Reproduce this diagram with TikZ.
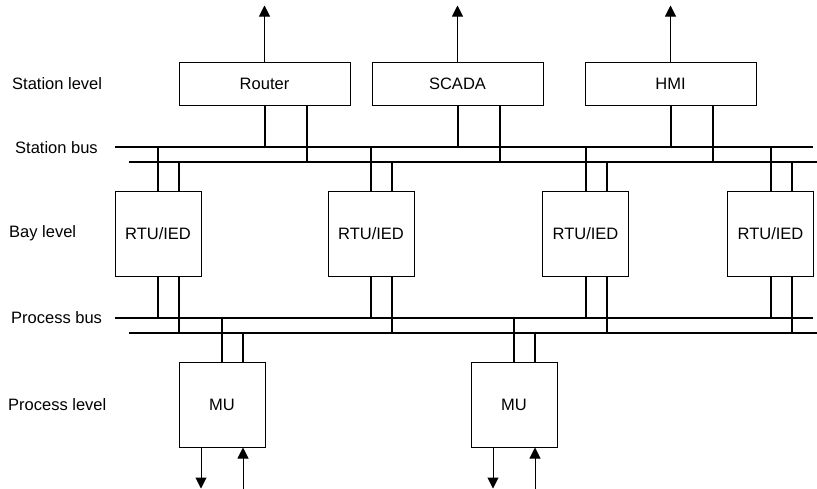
\documentclass[tikz,border=0pt]{standalone}
\usepackage{fontspec}
\setmainfont{Liberation Sans}
\usetikzlibrary{arrows.meta,calc,positioning}

\begin{document}
\begin{tikzpicture}[
  x=1pt,y=-1pt,
  every node/.style={font=\fontsize{16.5}{19}\selectfont},
  levelnode/.style={anchor=west,inner sep=0pt},
  topnode/.style={draw,line width=1pt,minimum width=171pt,minimum height=43pt,inner sep=0pt},
  devnode/.style={draw,line width=1pt,minimum width=86pt,minimum height=85pt,inner sep=0pt},
  bus/.style={line width=2pt},
  io/.style={-{Triangle[length=11pt,width=11pt]},line width=1pt},
  oi/.style={{Triangle[length=11pt,width=11pt]}-,line width=1pt}
]
  \useasboundingbox (0,0) rectangle (817,488);

  \node[levelnode] (stationlvl) at (12,84) {Station level};
  \node[levelnode] (stationbus) at (15,148) {Station bus};
  \node[levelnode] (baylvl) at (9,233) {Bay level};
  \node[levelnode] (processbus) at (11,318) {Process bus};
  \node[levelnode] (processlvl) at (8,405) {Process level};

  \node[topnode] (router) at (264.5,83.5) {Router};
  \node[topnode] (scada) at (457.5,83.5) {SCADA};
  \node[topnode] (hmi) at (670.5,83.5) {HMI};

  \node[devnode] (rtua) at (158,233.5) {RTU/IED};
  \node[devnode] (rtub) at (371,233.5) {RTU/IED};
  \node[devnode] (rtuc) at (585.5,233.5) {RTU/IED};
  \node[devnode] (rtud) at (770.5,233.5) {RTU/IED};

  \node[devnode] (mua) at (222,404.5) {MU};
  \node[devnode] (mub) at (514,404.5) {MU};

  \coordinate (sbaw) at (115,147); \coordinate (sbae) at (813,147);
  \coordinate (sbbw) at (129,162); \coordinate (sbbe) at (817,162);
  \coordinate (pbaw) at (115,318); \coordinate (pbae) at (813,318);
  \coordinate (pbbw) at (129,333); \coordinate (pbbe) at (817,333);

  \draw[bus] (sbaw) -- (sbae);
  \draw[bus] (sbbw) -- (sbbe);
  \draw[bus] (pbaw) -- (pbae);
  \draw[bus] (pbbw) -- (pbbe);

  \foreach \n in {router,scada,hmi}{
    \draw[bus] (\n.south) -- (\n.south |- sbaw);
    \draw[bus] ([xshift=42pt]\n.south) -- ([xshift=42pt]\n.south |- sbbw);
    \draw[io] (\n.north) -- ++(0,-56);
  }
  \foreach \n in {rtua,rtub,rtuc,rtud}{
    \draw[bus] (\n.north) -- (\n.north |- sbaw);
    \draw[bus] ([xshift=21pt]\n.north) -- ([xshift=21pt]\n.north |- sbbw);
    \draw[bus] (\n.south) -- (\n.south |- pbaw);
    \draw[bus] ([xshift=21pt]\n.south) -- ([xshift=21pt]\n.south |- pbbw);
  }
  \foreach \n in {mua,mub}{
    \draw[bus] (\n.north) -- (\n.north |- pbaw);
    \draw[bus] ([xshift=21pt]\n.north) -- ([xshift=21pt]\n.north |- pbbw);
    \draw[io] ([xshift=-21pt]\n.south) -- ++(0,41);
    \draw[oi] ([xshift=21pt]\n.south) -- ++(0,41);
  }
\end{tikzpicture}
\end{document}
